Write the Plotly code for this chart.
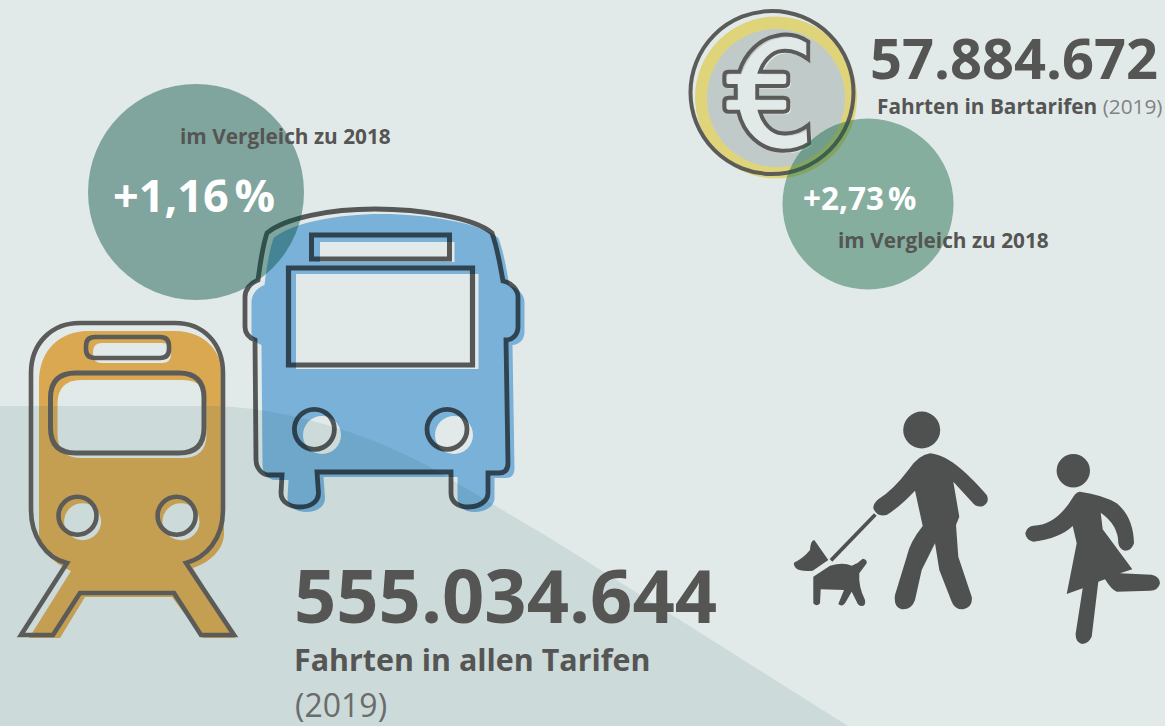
import re
import plotly.graph_objects as go

# ---------- chart content ----------
total_value = ["555.034.644"]
total_label = ["Fahrten in allen Tarifen"]
cash_value = ["57.884.672"]
cash_label = ["Fahrten in Bartarifen"]
year_label = ["(2019)"]
compare_label = ["im Vergleich zu 2018"]
change_values = ["+1,16\u202f%", "+2,73\u202f%"]

BG = "#e2eae9"
BAND = "rgba(20,80,90,0.10)"
DARK = "#555553"
TRAIN_LINE = "#5b5b59"
BUS_LINE = "rgba(5,5,5,0.64)"
ORANGE = "#d9a851"
BLUE = "#7ab1d8"
YELLOW = "#e0d47a"
COIN = "#bfcac9"
PERSON = "#4f5150"
FONT = "Open Sans"

shapes = []


def tf(path, fx=1.0, fy=1.0, ox=0.0, oy=0.0):
    def rep(m):
        return f"{float(m.group(1))/fx+ox:.1f},{float(m.group(2))/fy+oy:.1f}"
    return re.sub(r"(-?[\d.]+),(-?[\d.]+)", rep, path)


def add_path(path, fill="rgba(0,0,0,0)", line=None, w=0):
    shapes.append(dict(type="path", path=path, fillcolor=fill,
                       line=dict(color=line or "rgba(0,0,0,0)", width=w)))


def rrect(x0, y0, x1, y1, r):
    return (f"M {x0+r},{y0} L {x1-r},{y0} Q {x1},{y0} {x1},{y0+r} L {x1},{y1-r} Q {x1},{y1} {x1-r},{y1} "
            f"L {x0+r},{y1} Q {x0},{y1} {x0},{y1-r} L {x0},{y0+r} Q {x0},{y0} {x0+r},{y0} Z")


def circle(cx, cy, r, fill="rgba(0,0,0,0)", line=None, w=0):
    shapes.append(dict(type="circle", x0=cx-r, x1=cx+r, y0=cy-r, y1=cy+r, fillcolor=fill,
                       line=dict(color=line or "rgba(0,0,0,0)", width=w)))


# ---------- train ----------
TRAIN_FILL = ("M 39,382 C 39,350 60,331 88,331 L 175,331 C 205,331 224,352 224,382 L 224,533 "
              "C 224,550 210,562 193,568 L 235,638 L 203,638 L 172,597 L 85,597 L 60,638 L 29,638 "
              "L 71,571 C 52,562 39,550 39,533 Z")
TRAIN_OUT = ("M 31,373 C 31,343 52,323 80,323 L 175,323 C 203,323 223,343 223,373 L 223,510 "
             "C 223,540 205,558 186,563 L 234,635 L 201,635 L 174,593 L 80,593 L 53,635 L 21,635 "
             "L 67,563 C 45,558 31,535 31,510 Z")
add_path(TRAIN_FILL, ORANGE)
add_path(rrect(93, 343, 171, 363, 9), BG)
add_path(rrect(57.5, 380, 206.5, 458, 24), BG)
circle(82.6, 521.7, 18.5, BG)
circle(181, 521.7, 18.5, BG)

# ---------- bus ----------
BUS_OUT = ("M 267,233 C 285,218 330,209 375,209 C 420,209 475,218 492,233 C 498,250 500,265 503,281 "
           "C 512,283 518,290 518,297 L 518,327 C 518,335 512,340 506,340 L 508,463 C 508,470 505,473 499,473 "
           "L 488,473 L 488,493 C 488,502 478,507 468,507 C 458,507 451,502 451,493 L 451,472 L 317,472 "
           "L 318.5,493 C 318.5,502 310,507 300,507 C 290,507 281,502 281,493 L 282,475 L 269,475 "
           "C 262,475 256,468 256,460 L 255,340 C 250,338 245,335 245,327 L 245,297 C 245,290 250,283 258,280 "
           "C 260,265 262,248 267,233 Z")
add_path(tf(BUS_OUT, ox=6.5, oy=5), BLUE)
add_path("M 320,242 L 454.5,242 L 454.5,262 L 320,262 Z", BG)
add_path("M 296,274 L 478.5,274 L 478.5,369 L 296,369 Z", BG)
circle(322, 435, 19, BG)
circle(454, 435, 19, BG)

# ---------- light ground band ----------
add_path("M 0,406 L 215,406 C 290,408 370,435 430,467 L 553,540 L 848,726 L 0,726 Z", BAND)

# ---------- icon outlines ----------
add_path(TRAIN_OUT, line=TRAIN_LINE, w=4.6)
add_path(rrect(86, 337, 169, 358, 9), line=TRAIN_LINE, w=4.6)
add_path(rrect(50.5, 373, 204, 453, 25), line=TRAIN_LINE, w=5)
circle(77.5, 515.7, 19, line=TRAIN_LINE, w=4.6)
circle(176.6, 515.7, 19, line=TRAIN_LINE, w=4.6)

add_path(BUS_OUT, line=BUS_LINE, w=4.8)
add_path("M 311.5,235 L 449.5,235 L 449.5,259 L 311.5,259 Z", line=BUS_LINE, w=5)
add_path("M 288.5,268 L 472.5,268 L 472.5,365 L 288.5,365 Z", line=BUS_LINE, w=5.2)
circle(314.4, 429.3, 20, line=BUS_LINE, w=4.8)
circle(447, 429.3, 20, line=BUS_LINE, w=4.8)

# ---------- coin ----------
circle(776, 97.5, 81, YELLOW)
circle(776, 98, 69, COIN)
EURO = ("M 385,125 C 355,105 320,100 290,107 C 240,115 195,160 178,215 L 145,215 Q 133,215 133,228 "
        "L 133,245 Q 133,258 145,258 L 167,258 L 167,293 L 145,293 Q 133,293 133,305 L 133,322 Q 133,335 145,335 "
        "L 175,335 C 190,400 240,450 305,452 C 340,453 365,445 388,430 L 385,375 C 360,395 330,402 305,400 "
        "C 275,398 250,370 240,335 L 310,335 Q 325,335 325,322 L 325,305 Q 325,293 310,293 L 232,293 L 232,258 "
        "L 310,258 Q 325,258 325,245 L 325,228 Q 325,215 310,215 L 240,215 C 250,185 275,155 305,153 "
        "C 330,150 360,160 385,178 Z")
add_path(tf(EURO, 3, 3, 680 + 2.5, 2.5), BG)
add_path(tf(EURO, 3, 3, 680, 0), line=TRAIN_LINE, w=4)
circle(772, 92.5, 81.5, line=TRAIN_LINE, w=4)

# ---------- percentage discs ----------
circle(196, 192, 108, "rgba(0,75,60,0.43)")
circle(868, 204, 85.5, "rgba(20,102,66,0.45)")

# ---------- pedestrians ----------
MAN = ("M 450,160 C 500,165 550,205 620,285 Q 630,305 610,318 Q 590,325 575,305 L 520,245 L 538,350 L 528,375 "
       "L 535,470 L 575,590 Q 580,620 550,628 Q 525,630 515,605 L 478,510 L 465,430 L 425,510 L 405,600 "
       "Q 395,630 365,628 Q 340,620 345,585 L 380,470 Q 390,425 428,378 L 405,272 Q 360,320 320,345 "
       "Q 290,352 280,325 Q 280,310 295,298 Q 340,270 385,210 Q 415,165 450,160 Z")
LEASH = "M 282,340 L 290,347 L 157,485 L 149,477 Z"
DOG_HEAD = "M 42,488 Q 70,475 90,450 Q 92,420 103,420 L 145,480 L 98,512 Q 60,515 48,505 Q 40,495 42,488 Z"
DOG_BODY = ("M 100,530 L 150,497 Q 190,485 215,497 Q 235,490 248,476 Q 262,478 260,490 L 238,520 Q 235,560 255,600 "
            "Q 258,618 245,618 Q 235,618 230,605 L 215,575 L 195,610 Q 185,622 175,612 L 192,570 L 122,568 L 120,610 "
            "Q 110,622 100,610 Z")
WOMAN = ("M 900,275 Q 970,285 1010,310 Q 1060,350 1062,430 Q 1055,452 1035,452 Q 1018,448 1015,430 Q 1015,375 962,338 "
         "L 968,388 L 1057,508 L 1020,520 L 1115,524 Q 1140,530 1140,550 Q 1135,572 1110,572 L 1010,575 Q 995,570 975,538 "
         "L 955,545 L 935,710 Q 925,732 905,732 Q 885,725 887,700 L 908,565 L 860,582 L 890,430 L 878,378 "
         "Q 840,415 760,425 Q 738,420 736,400 Q 740,380 760,377 Q 830,375 880,290 Q 890,275 900,275 Z")
for p in (MAN, LEASH, DOG_HEAD, DOG_BODY, WOMAN):
    add_path(tf(p, 3, 3, 780, 400), PERSON)
circle(921.7, 430, 18.5, PERSON)
circle(1073.3, 470.7, 16.7, PERSON)


# ---------- text ----------
def note(x, y, text, size, color=DARK, bold=True):
    return dict(x=x, y=y, xref="x", yref="y", text=f"<b>{text}</b>" if bold else text, showarrow=False,
                xanchor="left", yanchor="middle", align="left", borderpad=0,
                font=dict(family=FONT, size=size, color=color))


grey = "#7f8282"
annotations = [
    note(293, 594, total_value[0], 74),
    note(293, 659, total_label[0], 30.4),
    note(294, 704, year_label[0], 32, "#6a6c6c", False),
    note(869, 57, cash_value[0], 56),
    note(876, 106, f"<b>{cash_label[0]}</b> <span style='color:{grey}'>{year_label[0]}</span>", 20.8, bold=False),
    note(179, 136, compare_label[0], 20.8),
    note(837, 240, compare_label[0], 20.8),
    note(112, 194, change_values[0], 45, "#ffffff"),
    note(802, 197, change_values[1], 31.5, "#ffffff"),
]

fig = go.Figure(go.Scatter(x=[], y=[], hoverinfo="skip", showlegend=False))
fig.update_layout(
    width=1165, height=726, margin=dict(l=0, r=0, t=0, b=0),
    paper_bgcolor=BG, plot_bgcolor=BG, showlegend=False,
    xaxis=dict(range=[0, 1165], visible=False, fixedrange=True),
    yaxis=dict(range=[726, 0], visible=False, fixedrange=True),
    shapes=shapes, annotations=annotations,
)
fig.write_html("out.html", config=dict(displayModeBar=False),
               post_script="document.body.style.margin='0';document.body.style.overflow='hidden';")
